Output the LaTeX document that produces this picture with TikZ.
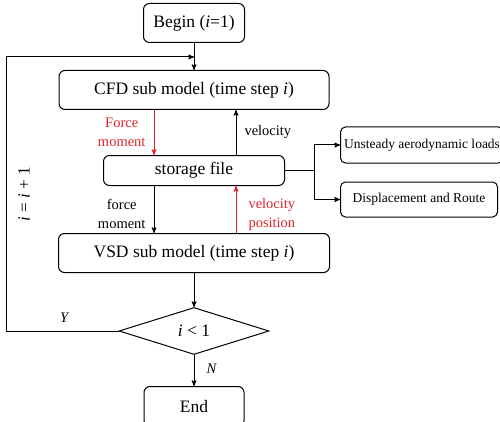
\documentclass[tikz,border=0pt]{standalone}
\usepackage{fontspec}
\setmainfont{Liberation Serif}
\usetikzlibrary{positioning,shapes.geometric,arrows}
\definecolor{linkred}{RGB}{225,35,45}

\begin{document}
\begin{tikzpicture}[
    x=1pt,y=1pt,
    procnode/.style={rectangle, rounded corners=6pt, draw, line width=1pt, minimum height=39pt, inner sep=2pt, font=\fontsize{17.5}{20}\selectfont},
    outnode/.style={rectangle, rounded corners=5pt, draw, line width=1pt, minimum height=36pt, inner sep=2pt, anchor=west, font=\fontsize{13.5}{16}\selectfont},
    testnode/.style={diamond, draw, line width=1pt, aspect=3.2, inner sep=0pt, minimum width=150pt, minimum height=47pt, font=\fontsize{17.5}{20}\selectfont},
    lbl/.style={font=\fontsize{14.5}{19}\selectfont, inner sep=0pt},
    ->,>=stealth',line width=1pt,
    ]
\useasboundingbox (0,0) rectangle (500,421);

%Nodes
\node[procnode, minimum width=101pt]  (begin)   at (194,398)          {Begin (\textit{i}=1)};
\node[procnode, minimum width=270pt]  (cfd)     [below=27pt of begin] {CFD sub model (time step \textit{i})};
\node[procnode, minimum width=181pt, minimum height=30pt] (storage) [below=45pt of cfd] {storage file};
\node[procnode, minimum width=271pt]  (vsd)     [below=47pt of storage] {VSD sub model (time step \textit{i})};
\node[testnode]                       (test)    [below=34pt of vsd]   {\textit{i} < 1};
\node[procnode, minimum width=100pt, minimum height=40pt] (end) [below=31pt of test] {End};

\node[outnode, minimum width=163pt]   (unsteady) at (340,276)  {Unsteady aerodynamic loads};
\node[outnode, minimum width=157pt, minimum height=35pt] (route) at (340,221.5) {Displacement and Route};

\coordinate (join) at ([yshift=-14pt]begin.south);
\node[lbl, rotate=90, font=\fontsize{17}{20}\selectfont] (incr) at (24,227) {\textit{i} = \textit{i} + 1};

%Lines
\path
(begin) edge (cfd)
([xshift=-40pt]cfd.south) edge[linkred] node[lbl, left=8pt, align=center, text=linkred]{Force\\moment} ([xshift=-40pt]storage.north)
([xshift=42pt]storage.north) edge node[lbl, right=8pt]{velocity} ([xshift=42pt]cfd.south)
([xshift=-40pt]storage.south) edge node[lbl, pos=0.6, left=8pt, align=center]{force\\moment} ([xshift=-40pt]vsd.north)
([xshift=42pt]vsd.north) edge[linkred] node[lbl, pos=0.4, right=12pt, align=left, text=linkred]{velocity\\position} ([xshift=42pt]storage.south)
(vsd) edge (test)
(test) edge node[lbl, pos=0.45, right=12pt]{\textit{N}} (end);

\draw[-] (storage.east) -- ++(29,0) coordinate (fork);
\draw (fork) |- (unsteady);
\draw (fork) |- (route);

\draw (test.west) -- node[lbl, pos=0.48, above=8pt]{\textit{Y}} ++(-112,0) |- (join);
\end{tikzpicture}
\end{document}
